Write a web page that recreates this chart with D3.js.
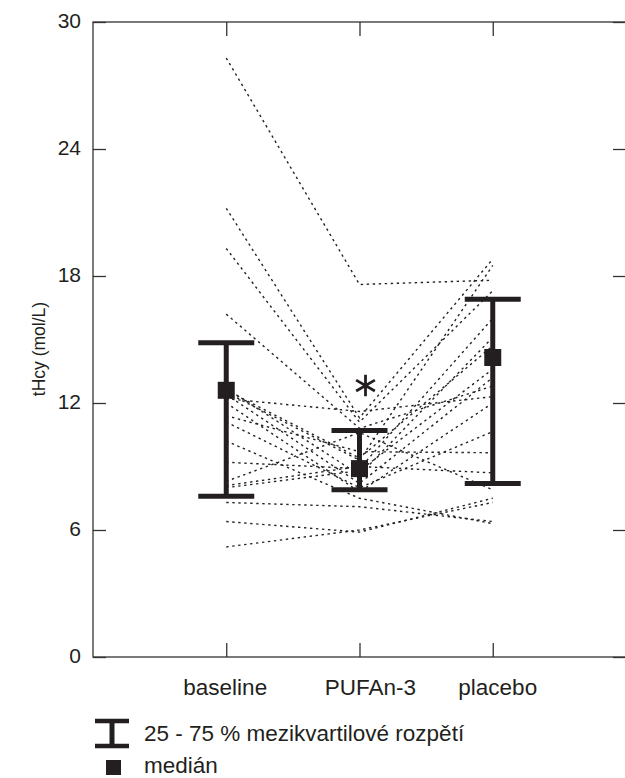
<!DOCTYPE html>
<html>
<head>
<meta charset="utf-8">
<script src="https://cdn.jsdelivr.net/npm/d3@7"></script>
<style>
  body { margin: 0; background: #fff; }
  text { font-family: "Liberation Sans", Arial, sans-serif; fill: #231f20; }
</style>
</head>
<body>
<div id="chart"></div>
<script>
// groups on the x axis
var groups = ["baseline", "PUFAn-3", "placebo"];

// one value per subject and period (tHcy, mol/L)
var baselineVals = [28.3, 21.2, 19.3, 16.2, 12.7, 12.6, 12.4, 12.2, 12.0, 11.4, 11.1, 10.2, 9.2, 8.3, 8.1, 8.0, 7.3, 6.4, 5.2, 12.5];
var pufaVals     = [17.6, 11.3, 11.1, 10.8, 8.6, 9.4, 8.2, 11.6, 7.8, 9.7, 8.0, 7.5, 8.9, 10.6, 9.0, 8.8, 7.1, 5.9, 6.0, 9.3];
var placeboVals  = [17.8, 18.8, 17.3, 12.8, 15.1, 14.7, 13.2, 12.3, 12.0, 9.65, 10.65, 6.3, 16.0, 7.9, 8.7, 13.6, 6.4, 7.5, 7.3, 18.5];

// median and 25-75 % range per group
var medians = [12.6, 8.9, 14.15];
var q1 = [7.6, 7.9, 8.2];
var q3 = [14.85, 10.7, 16.9];

var yTicks = [0, 6, 12, 18, 24, 30];

var width = 625, height = 778;

var svg = d3.select("#chart")
  .append("svg")
  .attr("width", width)
  .attr("height", height);

// scales: groups sit at 1, 2, 3
var x = d3.scaleLinear()
  .domain([0, 4])
  .range([93, 626]);

var y = d3.scaleLinear()
  .domain([0, 30])
  .range([657, 22]);

var ink = "#231f20";

// frame
svg.append("rect")
  .attr("x", x(0))
  .attr("y", y(30))
  .attr("width", x(4) - x(0))
  .attr("height", y(0) - y(30))
  .style("fill", "none")
  .style("stroke", "#333")
  .style("stroke-width", 1.3);

// left axis ticks point inward
svg.append("g")
  .attr("transform", "translate(" + x(0) + ",0)")
  .call(d3.axisRight(y).tickValues(yTicks).tickSize(13).tickFormat(""))
  .call(function (g) { g.select(".domain").remove(); })
  .selectAll("line").style("stroke", "#333").style("stroke-width", 1.3);

// right side ticks
svg.append("g")
  .attr("transform", "translate(" + x(4) + ",0)")
  .call(d3.axisLeft(y).tickValues(yTicks).tickSize(13).tickFormat(""))
  .call(function (g) { g.select(".domain").remove(); })
  .selectAll("line").style("stroke", "#333").style("stroke-width", 1.3);

// y tick labels
svg.append("g")
  .selectAll("text")
  .data(yTicks)
  .enter()
  .append("text")
  .attr("x", 81)
  .attr("y", function (d) { return y(d); })
  .attr("text-anchor", "end")
  .attr("dominant-baseline", "middle")
  .style("font-size", "21px")
  .text(function (d) { return d; });

// y axis label
svg.append("text")
  .attr("transform", "translate(40,349) rotate(-90)")
  .attr("text-anchor", "middle")
  .attr("dominant-baseline", "middle")
  .style("font-size", "17.5px")
  .text("tHcy (mol/L)");

// top and bottom ticks at the groups
var xTicks = [1, 2, 3];
svg.append("g")
  .attr("transform", "translate(0," + y(0) + ")")
  .call(d3.axisTop(x).tickValues(xTicks).tickSize(14).tickFormat(""))
  .call(function (g) { g.select(".domain").remove(); })
  .selectAll("line").style("stroke", "#333").style("stroke-width", 1.3);

svg.append("g")
  .attr("transform", "translate(0," + y(30) + ")")
  .call(d3.axisBottom(x).tickValues(xTicks).tickSize(14).tickFormat(""))
  .call(function (g) { g.select(".domain").remove(); })
  .selectAll("line").style("stroke", "#333").style("stroke-width", 1.3);

// group labels (slightly shifted as in the print)
var labelShift = [-1, 11, 5];
svg.append("g")
  .selectAll("text")
  .data(groups)
  .enter()
  .append("text")
  .attr("x", function (d, i) { return x(i + 1) + labelShift[i]; })
  .attr("y", 695)
  .attr("text-anchor", "middle")
  .style("font-size", "22.5px")
  .text(function (d) { return d; });

// individual subjects, dotted
var subjects = baselineVals.map(function (b, i) {
  return [b, pufaVals[i], placeboVals[i]];
});

var line = d3.line()
  .x(function (d, i) { return x(i + 1); })
  .y(function (d) { return y(d); });

svg.append("g")
  .selectAll("path")
  .data(subjects)
  .enter()
  .append("path")
  .attr("d", line)
  .style("fill", "none")
  .style("stroke", "#222")
  .style("stroke-width", 1.4)
  .style("stroke-dasharray", "2.4,3.6");

// 25-75 % bars
var capHalf = 28;
var bars = svg.append("g");
groups.forEach(function (g, i) {
  var cx = x(i + 1);
  bars.append("line")
    .attr("x1", cx).attr("x2", cx)
    .attr("y1", y(q3[i])).attr("y2", y(q1[i]))
    .style("stroke", ink).style("stroke-width", 5);
  bars.append("line")
    .attr("x1", cx - capHalf).attr("x2", cx + capHalf)
    .attr("y1", y(q3[i])).attr("y2", y(q3[i]))
    .style("stroke", ink).style("stroke-width", 5);
  bars.append("line")
    .attr("x1", cx - capHalf).attr("x2", cx + capHalf)
    .attr("y1", y(q1[i])).attr("y2", y(q1[i]))
    .style("stroke", ink).style("stroke-width", 5);
  // median square
  bars.append("rect")
    .attr("x", cx - 8.5)
    .attr("y", y(medians[i]) - 8.5)
    .attr("width", 17)
    .attr("height", 17)
    .style("fill", ink);
});

// significance mark above PUFAn-3
svg.append("path")
  .attr("d", d3.symbol().type(d3.symbolAsterisk).size(330))
  .attr("transform", "translate(" + (x(2) + 6) + "," + (y(q3[1]) - 45) + ")")
  .style("fill", "none")
  .style("stroke", ink)
  .style("stroke-width", 2.8);

// legend
var lg = svg.append("g");
lg.append("line").attr("x1", 95).attr("x2", 129).attr("y1", 721).attr("y2", 721)
  .style("stroke", ink).style("stroke-width", 4.5);
lg.append("line").attr("x1", 95).attr("x2", 129).attr("y1", 746).attr("y2", 746)
  .style("stroke", ink).style("stroke-width", 4.5);
lg.append("line").attr("x1", 112).attr("x2", 112).attr("y1", 721).attr("y2", 746)
  .style("stroke", ink).style("stroke-width", 5);
lg.append("text")
  .attr("x", 144).attr("y", 735)
  .attr("dominant-baseline", "middle")
  .style("font-size", "22.5px")
  .text("25 - 75 % mezikvartilové rozpětí");
lg.append("rect")
  .attr("x", 106).attr("y", 760).attr("width", 15).attr("height", 15)
  .style("fill", ink);
lg.append("text")
  .attr("x", 144).attr("y", 767)
  .attr("dominant-baseline", "middle")
  .style("font-size", "22.5px")
  .text("medián");
</script>
</body>
</html>
